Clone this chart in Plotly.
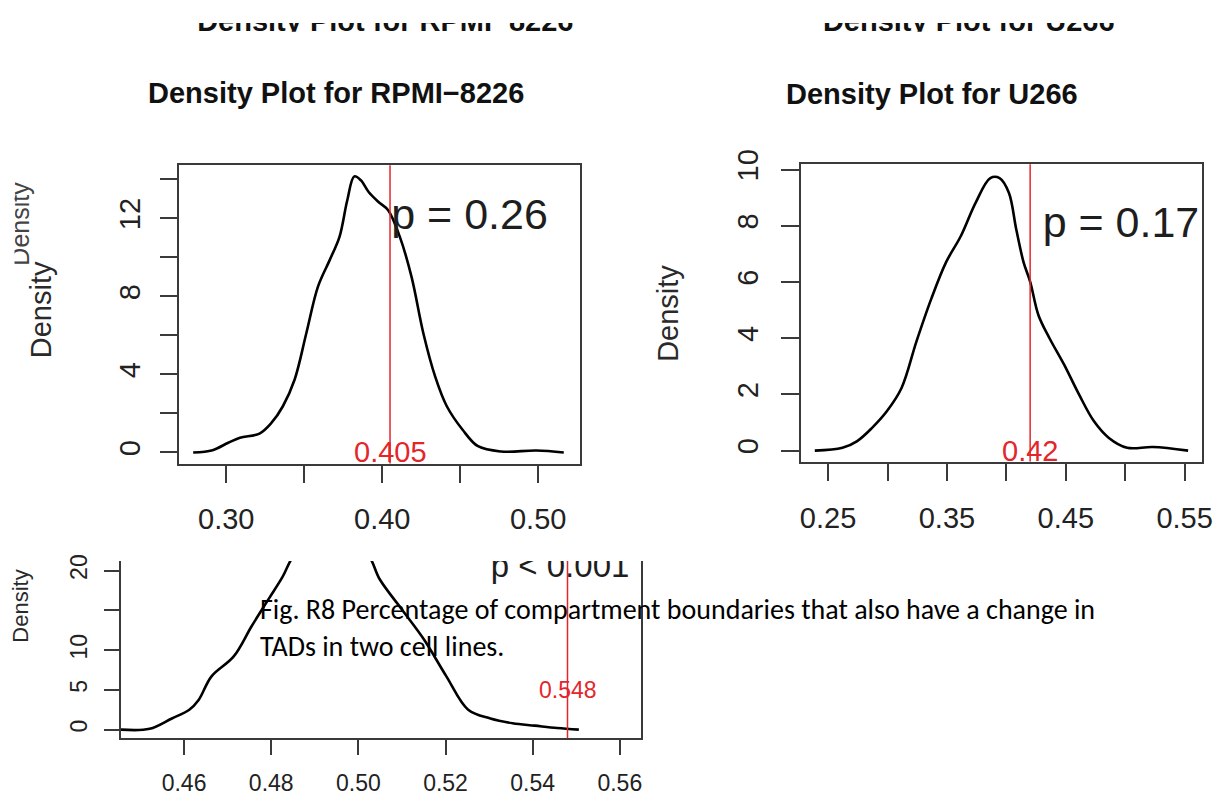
import plotly.graph_objects as go

# the page puts the figure 8px in from the top-left corner, so the figure is made
# that much smaller than the window
W, H = 1217, 788

# density curves
rpmi_x = [0.2788, 0.2912, 0.3013, 0.3088, 0.3213, 0.3288, 0.3363, 0.3438, 0.3513, 0.3588,
          0.3663, 0.3726, 0.3776, 0.3821, 0.3863, 0.3913, 0.3976, 0.4038, 0.4113, 0.4188,
          0.4264, 0.4339, 0.4414, 0.4514, 0.4614, 0.4764, 0.4989, 0.5164]
rpmi_y = [0.0, 0.12, 0.5, 0.75, 0.97, 1.5, 2.37, 3.73, 6.1, 8.5,
          9.86, 11.05, 12.93, 14.15, 13.95, 13.35, 12.84, 12.42, 11.05, 9.0,
          6.1, 3.9, 2.37, 1.18, 0.32, 0.05, 0.1, 0.0]

u266_x = [0.2388, 0.2621, 0.2745, 0.287, 0.2994, 0.3118, 0.3243, 0.3368, 0.3492, 0.3617,
          0.3741, 0.3865, 0.3943, 0.4021, 0.4083, 0.4145, 0.4201, 0.427, 0.4363, 0.4487,
          0.4611, 0.4736, 0.486, 0.5016, 0.5233, 0.5529]
u266_y = [0.0, 0.1, 0.34, 0.81, 1.4, 2.23, 3.88, 5.4, 6.7, 7.64,
          8.82, 9.7, 9.7, 9.18, 7.88, 6.7, 6.0, 4.82, 4.0, 3.05,
          2.0, 1.05, 0.46, 0.1, 0.13, 0.0]

tads_x = [0.4455, 0.4521, 0.4572, 0.4612, 0.4633, 0.4663, 0.4714, 0.4755, 0.4795, 0.4826,
          0.4851, 0.4880, 0.4940, 0.4990, 0.5024, 0.5049, 0.5100, 0.5151, 0.5202, 0.5252,
          0.5303, 0.5354, 0.5405, 0.5456, 0.5506]
tads_y = [0.0, 0.1, 1.4, 2.5, 3.7, 6.7, 9.2, 13.0, 16.5, 19.2,
          21.8, 23.0, 23.5, 23.0, 21.8, 18.9, 15.1, 11.3, 6.7, 2.5,
          1.4, 0.8, 0.5, 0.2, 0.0]

# observed values (red lines) and p-values
observed = [0.405, 0.42, 0.548]
observed_label_y = [0, 0, 5]
p_texts = ["p = 0.26", "p = 0.17", "p < 0.001"]
p_pos = [(0.456, 12.0), (0.4964, 8.0), (0.5463, 20.2)]

titles = ["Density Plot for RPMI−8226", "Density Plot for U266"]

# ticks
x1_vals = [0.30, 0.35, 0.40, 0.45, 0.50]
x1_text = ["0.30", "", "0.40", "", "0.50"]
y1_vals = [0, 2, 4, 6, 8, 10, 12, 14]
y1_text = ["0", "", "4", "", "8", "", "12", ""]
x2_vals = [0.25, 0.30, 0.35, 0.40, 0.45, 0.50, 0.55]
x2_text = ["0.25", "", "0.35", "", "0.45", "", "0.55"]
y2_vals = [0, 2, 4, 6, 8, 10]
y2_text = ["0", "2", "4", "6", "8", "10"]
x3_vals = [0.46, 0.48, 0.50, 0.52, 0.54, 0.56]
x3_text = ["0.46", "0.48", "0.50", "0.52", "0.54", "0.56"]
y3_vals = [0, 5, 10, 15, 20]
y3_text = ["0", "5", "10", "", "20"]

caption = ["Fig. R8 Percentage of compartment boundaries that also have a change in",
           "TADs in two cell lines."]

FONT = "Liberation Sans, Arial, Helvetica, sans-serif"
RED = "#e3262c"
AX = "#3a3a3a"


def px_x(p):
    return p / W


def px_y(p):
    return 1 - p / H


fig = go.Figure()

curve = dict(mode="lines", line=dict(color="black", width=2.6, shape="spline", smoothing=1.0),
             hoverinfo="skip", showlegend=False)
fig.add_trace(go.Scatter(x=rpmi_x, y=rpmi_y, xaxis="x", yaxis="y", **curve))
fig.add_trace(go.Scatter(x=u266_x, y=u266_y, xaxis="x2", yaxis="y2", **curve))
fig.add_trace(go.Scatter(x=tads_x, y=tads_y, xaxis="x3", yaxis="y3", **curve))

# p-values as text marks (the bottom one is cut by the panel edge)
for i, (ax, ay) in enumerate([("x", "y"), ("x2", "y2"), ("x3", "y3")]):
    fig.add_trace(go.Scatter(
        x=[p_pos[i][0]], y=[p_pos[i][1]], xaxis=ax, yaxis=ay, mode="text",
        text=[p_texts[i]], textposition="middle center",
        textfont=dict(family=FONT, size=43 if i < 2 else 33, color="#1e1e1e"),
        cliponaxis=(i == 2), hoverinfo="skip", showlegend=False))

# half-hidden titles at the very top, clipped to a thin band
fig.add_trace(go.Scatter(
    x=[190, 822], y=[1, 1], xaxis="x4", yaxis="y4", mode="text",
    text=titles, textposition="middle right",
    textfont=dict(family=FONT, size=29, color="#111", weight="bold"),
    cliponaxis=True, hoverinfo="skip", showlegend=False))

base = dict(showline=True, linecolor=AX, linewidth=1.5, mirror=True, ticks="outside",
            tickcolor=AX, tickwidth=1.5, showgrid=False, zeroline=False, tickmode="array")
tfont = dict(family=FONT, size=29, color="#222")
tfont3 = dict(family=FONT, size=23, color="#222")

fig.update_layout(
    width=W, height=H, margin=dict(l=0, r=0, t=0, b=0),
    paper_bgcolor="white", plot_bgcolor="white", showlegend=False,
    xaxis=dict(base, domain=[px_x(172), px_x(577)], range=[0.2699, 0.527], anchor="y",
               tickvals=x1_vals, ticktext=x1_text, ticklen=18, tickfont=tfont,
               ticklabelstandoff=11),
    yaxis=dict(base, domain=[px_y(452), px_y(146)], range=[-0.566, 14.72], anchor="x",
               tickvals=y1_vals, ticktext=y1_text, ticklen=18, tickfont=tfont,
               tickangle=-90, ticklabelstandoff=8),
    xaxis2=dict(base, domain=[px_x(800), px_x(1205)], range=[0.2273, 0.5647], anchor="y2",
                tickvals=x2_vals, ticktext=x2_text, ticklen=18, tickfont=tfont,
                ticklabelstandoff=12),
    yaxis2=dict(base, domain=[px_y(450), px_y(145)], range=[-0.39, 10.19], anchor="x2",
                tickvals=y2_vals, ticktext=y2_text, ticklen=18, tickfont=tfont,
                tickangle=-90, ticklabelstandoff=12),
    xaxis3=dict(base, domain=[px_x(113), px_x(638)], range=[0.4455, 0.5648], anchor="y3",
                mirror=False, tickvals=x3_vals, ticktext=x3_text, ticklen=15, tickfont=tfont3,
                ticklabelstandoff=8),
    yaxis3=dict(base, domain=[px_y(734), px_y(552)], range=[-1.10, 21.2], anchor="x3",
                tickvals=y3_vals, ticktext=y3_text, ticklen=15, tickfont=tfont3,
                tickangle=-90, ticklabelstandoff=8),
    xaxis4=dict(domain=[0, 1], range=[0, W], visible=False, anchor="y4"),
    yaxis4=dict(domain=[px_y(9), px_y(0)], range=[9, 0], visible=False, anchor="x4"),
)

# red reference lines and their labels
for i, ax in enumerate(["x", "x2", "x3"]):
    yref = "y" if i == 0 else "y%d" % (i + 1)
    fig.add_shape(type="line", xref=ax, yref=yref + " domain", x0=observed[i], x1=observed[i],
                  y0=0, y1=1, line=dict(color=RED, width=1.5))
    fig.add_annotation(xref=ax, yref=yref, x=observed[i], y=observed_label_y[i],
                       text=str(observed[i]), showarrow=False, xanchor="center", yanchor="middle",
                       font=dict(family=FONT, size=29 if i < 2 else 23, color=RED))

# main titles
for tx, ty, txt in [(330, 72, titles[0]), (932, 73, titles[1])]:
    fig.add_annotation(xref="paper", yref="paper", x=px_x(tx), y=px_y(ty), text=txt,
                       xanchor="center", yanchor="middle", showarrow=False,
                       font=dict(family=FONT, size=29, color="#111", weight="bold"))

# y-axis titles
for xp, yp, sz in [(32, 294, 29), (666, 298, 29), (12, 598, 22)]:
    fig.add_annotation(xref="paper", yref="paper", x=px_x(xp), y=px_y(yp), text="Density",
                       textangle=-90, xanchor="center", yanchor="middle", showarrow=False,
                       font=dict(family=FONT, size=sz, color="#2a2a2a"))

# leftover, partly hidden axis title at the top-left
fig.add_annotation(xref="paper", yref="paper", x=px_x(11), y=px_y(206), text="Density",
                   textangle=-90, xanchor="center", yanchor="middle", showarrow=False,
                   font=dict(family=FONT, size=25, color="#444"))
fig.add_annotation(xref="paper", yref="paper", x=0, y=px_y(206), text=" ",
                   xanchor="left", yanchor="middle", width=4, height=120,
                   bgcolor="white", borderpad=0, showarrow=False)

# caption
for k, line in enumerate(caption):
    fig.add_annotation(xref="paper", yref="paper", x=px_x(251), y=px_y(602 + 38 * k),
                       text=line, xanchor="left", yanchor="middle", showarrow=False,
                       font=dict(family="Carlito, Lato, sans-serif", size=28, color="black"))

fig.write_html("out.html")
